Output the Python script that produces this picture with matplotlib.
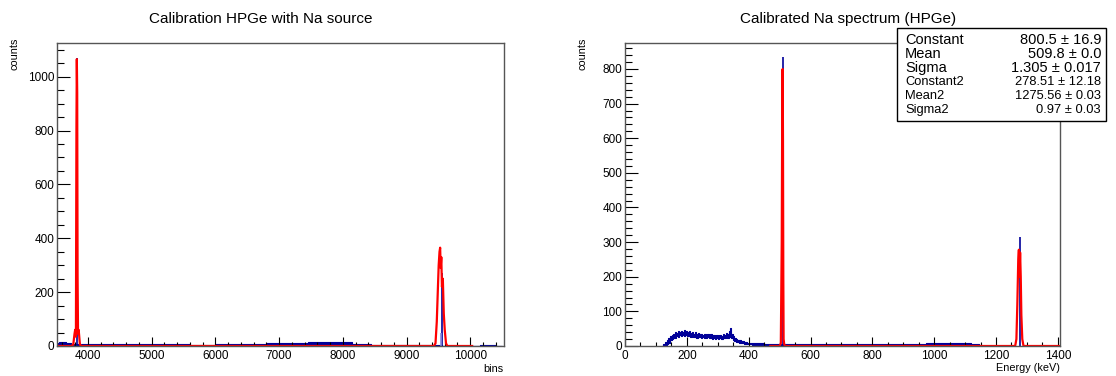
import matplotlib
matplotlib.use("Agg")
import matplotlib.pyplot as plt
from matplotlib.patches import Rectangle
from matplotlib.ticker import MultipleLocator

plt.rcParams['font.family'] = ['Liberation Sans', 'DejaVu Sans']

# ---------------- data ----------------
# Left panel: raw spectrum in bins, blue band envelope (low / high counts)
left_bg_x = [3500, 3600, 3700, 3760, 3900, 4200, 4600, 5000, 5400, 5800, 6200, 6600,
             7000, 7300, 7600, 7800, 8000, 8300, 8600, 9000, 9400, 9700, 10000, 10300, 10500]
left_bg_lo = [0, 0, 0, 0, 0, 0, 0, 0, 0, 0, 0, 0,
              0, 0, 2, 3, 1, 0, 0, 0, 0, 0, 0, 0, 0]
left_bg_hi = [12, 14, 11, 8, 7, 6, 7, 6, 6, 5, 7, 8,
              10, 12, 14, 16, 13, 8, 4, 3, 2, 1, 1, 2, 0]
# blue peak spikes (bin, counts)
left_peak_x = [3833, 9555, 9542]
left_peak_y = [1070, 270, 50]
# red fit curve as drawn (bin, counts)
left_fit_x = [3500, 3740, 3770, 3790, 3800, 3812, 3820, 3826, 3832, 3838, 3845, 3855, 3875, 3900,
              9430, 9455, 9475, 9492, 9505, 9518, 9528, 9536, 9546, 9556, 9570, 9585, 9600, 9620, 9640, 10030]
left_fit_y = [0, 0, 5, 45, 60, 35, 810, 1065, 940, 260, 45, 60, 5, 0,
              0, 10, 90, 210, 300, 350, 365, 290, 330, 220, 250, 120, 60, 10, 0, 0]

# Right panel: calibrated spectrum in keV, blue band envelope
right_bg_x = [120, 128, 133, 138, 143, 148, 153, 158, 163, 168, 173, 178, 183, 188, 193,
              198, 203, 208, 213, 218, 223, 228, 233, 238, 243, 248, 253, 258, 263, 268,
              273, 278, 283, 288, 293, 298, 303, 308, 313, 318, 323, 328, 333, 338, 342,
              346, 350, 355, 360, 365, 370, 380, 390, 400, 420, 440, 460, 480, 500,
              550, 600, 650, 700, 750, 800, 850, 900, 950, 1000, 1050, 1100, 1140, 1150, 1160]
right_bg_lo = [0, 0, 2, 6, 10, 16, 20, 24, 22, 28, 27, 31, 29, 33, 30,
               31, 28, 30, 26, 28, 25, 27, 24, 26, 25, 23, 26, 24, 22, 25,
               23, 24, 21, 23, 20, 22, 19, 22, 21, 23, 22, 25, 24, 27, 30,
               22, 17, 14, 12, 11, 9, 8, 6, 5, 4, 3, 3, 2, 2,
               1, 1, 1, 1, 1, 1, 1, 1, 1, 2, 2, 2, 1, 0, 0]
right_bg_hi = [0, 6, 12, 17, 24, 30, 33, 36, 40, 38, 42, 40, 44, 41, 45,
               42, 40, 42, 38, 40, 36, 39, 35, 37, 34, 36, 33, 35, 32, 34,
               31, 34, 30, 33, 29, 32, 28, 31, 30, 34, 33, 37, 36, 42, 52,
               35, 28, 24, 21, 18, 16, 14, 12, 10, 9, 8, 7, 7, 6,
               5, 5, 6, 5, 6, 6, 5, 6, 6, 8, 9, 8, 5, 2, 0]
right_peak_x = [509.8, 1276.5]
right_peak_y = [835, 315]
right_fit_x = [470, 500, 504, 507, 509, 510, 511, 512, 513, 515, 518,
               1150, 1262, 1266, 1269, 1272, 1274, 1276, 1278, 1280, 1282, 1285, 1289, 1407]
right_fit_y = [0, 0, 8, 300, 790, 800, 590, 200, 20, 5, 0,
               0, 0, 20, 120, 250, 278, 200, 270, 200, 90, 20, 0, 0]

stats_names = ["Constant", "Mean", "Sigma", "Constant2", "Mean2", "Sigma2"]
stats_values = ["800.5 \u00b1 16.9", "509.8 \u00b1 0.0", "1.305 \u00b1 0.017",
                "278.51 \u00b1 12.18", "1275.56 \u00b1 0.03", "0.97 \u00b1 0.03"]

BLUE = '#000099'
RED = '#ff0000'
FRAME = '#555555'

W, H = 1116, 376
fig = plt.figure(figsize=(W / 100, H / 100), dpi=100)


def px_axes(x0, y0, x1, y1):
    return fig.add_axes([x0 / W, 1 - y1 / H, (x1 - x0) / W, (y1 - y0) / H])


def style(ax, xmaj, xmin, ymaj, ymin, xlen_px, ylen_px):
    for s in ax.spines.values():
        s.set_color(FRAME)
        s.set_linewidth(1.0)
    ax.xaxis.set_major_locator(MultipleLocator(xmaj))
    ax.xaxis.set_minor_locator(MultipleLocator(xmin))
    ax.yaxis.set_major_locator(MultipleLocator(ymaj))
    ax.yaxis.set_minor_locator(MultipleLocator(ymin))
    ax.tick_params(axis='x', which='major', direction='in', length=xlen_px * 0.72,
                   width=0.8, labelsize=8.5, pad=3, top=False)
    ax.tick_params(axis='x', which='minor', direction='in', length=xlen_px * 0.36,
                   width=0.8, top=False)
    ax.tick_params(axis='y', which='major', direction='in', length=ylen_px * 0.72,
                   width=0.8, labelsize=8.5, pad=2, right=False)
    ax.tick_params(axis='y', which='minor', direction='in', length=ylen_px * 0.36,
                   width=0.8, right=False)


# ---------------- left panel ----------------
axL = px_axes(57, 43, 504, 346)
axL.fill_between(left_bg_x, left_bg_lo, left_bg_hi, step='mid', color=BLUE, lw=0.8)
axL.vlines(left_peak_x, 0, left_peak_y, colors=[BLUE, BLUE, '#8888dd'], lw=1.2)
axL.plot(left_fit_x, left_fit_y, color=RED, lw=1.6)
axL.set_xlim(3515, 10530)
axL.set_ylim(0, 1125)
style(axL, 1000, 200, 200, 50, 9, 13.4)

# ---------------- right panel ----------------
axR = px_axes(625, 43, 1060, 346)
axR.fill_between(right_bg_x, right_bg_lo, right_bg_hi, step='mid', color=BLUE, lw=0.8)
axR.vlines(right_peak_x, 0, right_peak_y, colors=BLUE, lw=1.2)
axR.plot(right_fit_x, right_fit_y, color=RED, lw=1.6)
axR.set_xlim(0, 1407)
axR.set_ylim(0, 875)
style(axR, 200, 50, 100, 20, 9, 13)

# ---------------- texts ----------------
fig.text(261 / W, 1 - 19 / H, "Calibration HPGe with Na source", ha='center', va='center', fontsize=11)
fig.text(848 / W, 1 - 19 / H, "Calibrated Na spectrum (HPGe)", ha='center', va='center', fontsize=11)
fig.text(14 / W, 1 - 38 / H, "counts", rotation=90, ha='center', va='top', fontsize=7.8)
fig.text(583 / W, 1 - 38 / H, "counts", rotation=90, ha='center', va='top', fontsize=7.8)
fig.text(503 / W, 1 - 369 / H, "bins", ha='right', va='center', fontsize=7.8)
fig.text(1060 / W, 1 - 368 / H, "Energy (keV)", ha='right', va='center', fontsize=7.8)

# ---------------- stats box ----------------
bx0, by0, bx1, by1 = 897, 28, 1106, 121
fig.patches.append(Rectangle((bx0 / W, 1 - by1 / H), (bx1 - bx0) / W, (by1 - by0) / H,
                             transform=fig.transFigure, facecolor='white',
                             edgecolor='black', lw=1.0, zorder=5))
n = len(stats_names)
first_row, last_row = 40, 110
for i, (nm, val) in enumerate(zip(stats_names, stats_values)):
    yc = first_row + (last_row - first_row) * i / (n - 1)
    fs = 10.5 if i < 3 else 9.3
    fig.text(905 / W, 1 - yc / H, nm, ha='left', va='center', fontsize=fs, zorder=6)
    fig.text(1101 / W, 1 - yc / H, val, ha='right', va='center', fontsize=fs, zorder=6)

fig.savefig("out.png", dpi=100)
